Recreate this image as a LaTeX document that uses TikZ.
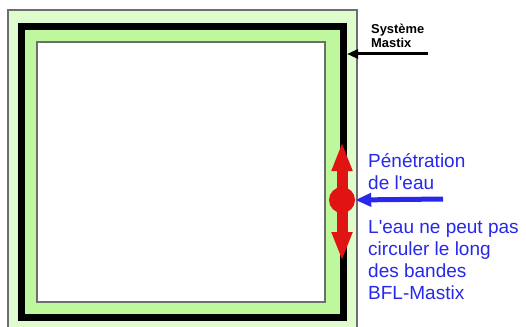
\documentclass[tikz,border=0pt]{standalone}
\usepackage{fontspec}
\setmainfont{Liberation Sans}
\usetikzlibrary{arrows.meta}
\definecolor{paleg}{RGB}{222,252,206}
\definecolor{bandg}{RGB}{190,247,158}
\definecolor{edgegray}{RGB}{110,110,110}
\definecolor{bluetxt}{RGB}{40,40,235}
\definecolor{redarr}{RGB}{225,20,20}
\tikzset{
  bluelabel/.style={inner sep=0pt, anchor=base west, align=left, text=bluetxt,
    font=\fontsize{19}{22}\selectfont},
  blacklabel/.style={inner sep=0pt, anchor=base west, align=left,
    font=\fontsize{12.9}{14.7}\selectfont\bfseries},
  redarrow/.style={draw=redarr, line width=11pt, -{Triangle[width=19pt,length=29pt]}},
}
\begin{document}
\begin{tikzpicture}[x=1pt,y=-1pt]
\useasboundingbox (0,0) rectangle (526,326);
\clip (0,0) rectangle (526,326);
\fill[white] (0,0) rectangle (526,326);
% outer pale band
\draw[fill=paleg, draw=edgegray, line width=1.2pt] (8,10) rectangle (357,345);
% inner band and black frame
\draw[fill=bandg, draw=black, line width=7pt] (21.5,26.5) rectangle (343,317);
% inner white area
\draw[fill=white, draw=edgegray, line width=1.2pt] (37,42) rectangle (325,302);

% Systeme Mastix
\node[blacklabel] (mastix) at (371,48) {Système\\Mastix};
\coordinate (mstart) at (428,54);
\coordinate (mtip) at (347,54);
\draw[line width=3pt, -{Triangle[width=9pt,length=11pt]}] (mstart) -- (mtip);

% red double arrow
\node[circle, fill=redarr, minimum size=26pt, inner sep=0pt] (drop) at (342,200) {};
\coordinate (rtop) at (342,142);
\coordinate (rbot) at (342,261);
\draw[redarrow] (drop.center) -- (rtop);
\draw[redarrow] (drop.center) -- (rbot);

% blue arrow and texts
\node[bluelabel] (pen) at (368,189) {Pénétration\\de l\textquotesingle eau};
\node[bluelabel] (circ) at (368,299) {L\textquotesingle eau ne peut pas\\circuler le long\\des bandes\\BFL-Mastix};
\coordinate (bstart) at (443,199);
\draw[draw=bluetxt, line width=5pt, -{Triangle[width=13pt,length=16pt]}] (bstart) -- (drop.east);
\end{tikzpicture}
\end{document}
